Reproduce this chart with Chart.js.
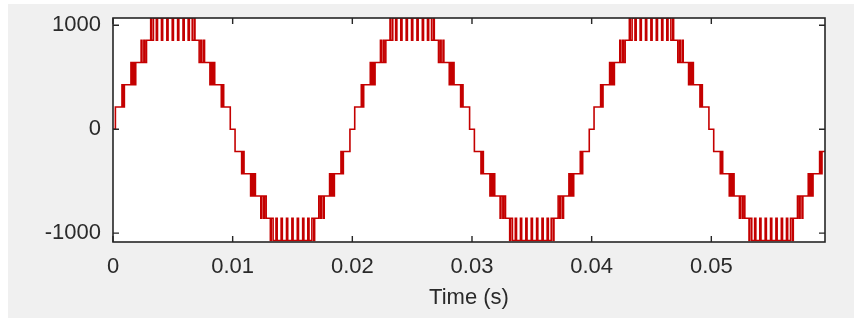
<!DOCTYPE html>
<html>
<head>
<meta charset="utf-8">
<script src="https://cdn.jsdelivr.net/npm/chart.js@4"></script>
<style>
html, body { margin: 0; padding: 0; background: #fff; }
#frame { position: absolute; left: 8px; top: 4px; width: 846px; height: 314px; background: #f0f0f0; }
#wrap { position: absolute; left: 0; top: 0; width: 854px; height: 322px; }
</style>
</head>
<body>
<div id="frame"></div>
<div id="wrap"><canvas id="waveChart" width="854" height="322"></canvas></div>
<script>
// switching edges: [time in ms, output voltage after the edge]
var halfCycle1 = [[0,0],[0.20,214],[0.75,428],[0.82,214],[0.95,428],[1.50,642],[1.57,428],[1.70,642],[1.78,428],[1.90,642],
    [2.35,856],[2.42,642],[2.58,856],[2.66,642],[2.80,856],[3.15,1070],[3.22,856],[3.38,1070],[3.62,856],[3.72,1070],
    [4.05,856],[4.15,1070],[4.50,856],[4.60,1070],[4.95,856],[5.05,1070],[5.40,856],[5.50,1070],[5.85,856],[5.95,1070],
    [6.28,856],[6.38,1070],[6.62,856],[6.78,1070],[6.85,856],[7.20,642],[7.34,856],[7.42,642],[7.58,856],[7.65,642],
    [8.10,428],[8.22,642],[8.30,428],[8.43,642],[8.50,428],[9.05,214],[9.18,428],[9.25,214],[9.80,0]];
var halfCycle2 = [[10.20,-214],[10.75,-428],[10.82,-214],[10.95,-428],[11.50,-642],[11.57,-428],[11.70,-642],[11.78,-428],[11.90,-642],
    [12.35,-856],[12.42,-642],[12.58,-856],[12.66,-642],[12.80,-856],[13.15,-1070],[13.22,-856],[13.38,-1070],[13.62,-856],[13.72,-1070],
    [14.05,-856],[14.15,-1070],[14.50,-856],[14.60,-1070],[14.95,-856],[15.05,-1070],[15.40,-856],[15.50,-1070],[15.85,-856],[15.95,-1070],
    [16.28,-856],[16.38,-1070],[16.62,-856],[16.78,-1070],[16.85,-856],[17.20,-642],[17.34,-856],[17.42,-642],[17.58,-856],[17.65,-642],
    [18.10,-428],[18.22,-642],[18.30,-428],[18.43,-642],[18.50,-428],[19.05,-214],[19.18,-428],[19.25,-214],[19.80,0]];
var halfCycle3 = [[20.20,214],[20.75,428],[20.82,214],[20.95,428],[21.50,642],[21.57,428],[21.70,642],[21.78,428],[21.90,642],
    [22.35,856],[22.42,642],[22.58,856],[22.66,642],[22.80,856],[23.15,1070],[23.22,856],[23.38,1070],[23.62,856],[23.72,1070],
    [24.05,856],[24.15,1070],[24.50,856],[24.60,1070],[24.95,856],[25.05,1070],[25.40,856],[25.50,1070],[25.85,856],[25.95,1070],
    [26.28,856],[26.38,1070],[26.62,856],[26.78,1070],[26.85,856],[27.20,642],[27.34,856],[27.42,642],[27.58,856],[27.65,642],
    [28.10,428],[28.22,642],[28.30,428],[28.43,642],[28.50,428],[29.05,214],[29.18,428],[29.25,214],[29.80,0]];
var halfCycle4 = [[30.20,-214],[30.75,-428],[30.82,-214],[30.95,-428],[31.50,-642],[31.57,-428],[31.70,-642],[31.78,-428],[31.90,-642],
    [32.35,-856],[32.42,-642],[32.58,-856],[32.66,-642],[32.80,-856],[33.15,-1070],[33.22,-856],[33.38,-1070],[33.62,-856],[33.72,-1070],
    [34.05,-856],[34.15,-1070],[34.50,-856],[34.60,-1070],[34.95,-856],[35.05,-1070],[35.40,-856],[35.50,-1070],[35.85,-856],[35.95,-1070],
    [36.28,-856],[36.38,-1070],[36.62,-856],[36.78,-1070],[36.85,-856],[37.20,-642],[37.34,-856],[37.42,-642],[37.58,-856],[37.65,-642],
    [38.10,-428],[38.22,-642],[38.30,-428],[38.43,-642],[38.50,-428],[39.05,-214],[39.18,-428],[39.25,-214],[39.80,0]];
var halfCycle5 = [[40.20,214],[40.75,428],[40.82,214],[40.95,428],[41.50,642],[41.57,428],[41.70,642],[41.78,428],[41.90,642],
    [42.35,856],[42.42,642],[42.58,856],[42.66,642],[42.80,856],[43.15,1070],[43.22,856],[43.38,1070],[43.62,856],[43.72,1070],
    [44.05,856],[44.15,1070],[44.50,856],[44.60,1070],[44.95,856],[45.05,1070],[45.40,856],[45.50,1070],[45.85,856],[45.95,1070],
    [46.28,856],[46.38,1070],[46.62,856],[46.78,1070],[46.85,856],[47.20,642],[47.34,856],[47.42,642],[47.58,856],[47.65,642],
    [48.10,428],[48.22,642],[48.30,428],[48.43,642],[48.50,428],[49.05,214],[49.18,428],[49.25,214],[49.80,0]];
var halfCycle6 = [[50.20,-214],[50.75,-428],[50.82,-214],[50.95,-428],[51.50,-642],[51.57,-428],[51.70,-642],[51.78,-428],[51.90,-642],
    [52.35,-856],[52.42,-642],[52.58,-856],[52.66,-642],[52.80,-856],[53.15,-1070],[53.22,-856],[53.38,-1070],[53.62,-856],[53.72,-1070],
    [54.05,-856],[54.15,-1070],[54.50,-856],[54.60,-1070],[54.95,-856],[55.05,-1070],[55.40,-856],[55.50,-1070],[55.85,-856],[55.95,-1070],
    [56.28,-856],[56.38,-1070],[56.62,-856],[56.78,-1070],[56.85,-856],[57.20,-642],[57.34,-856],[57.42,-642],[57.58,-856],[57.65,-642],
    [58.10,-428],[58.22,-642],[58.30,-428],[58.43,-642],[58.50,-428],[59.05,-214],[59.18,-428],[59.25,-214],[59.50,-214]];

var xTicks = [0, 0.01, 0.02, 0.03, 0.04, 0.05];
var xTickLabels = ['0', '0.01', '0.02', '0.03', '0.04', '0.05'];
var yTicks = [-1000, 0, 1000];
var yTickLabels = ['-1000', '0', '1000'];

var edges = halfCycle1.concat(halfCycle2, halfCycle3, halfCycle4, halfCycle5, halfCycle6);
var points = edges.map(function(e) { return { x: e[0] / 1000, y: e[1] }; });

var axisFont = { family: "'Liberation Sans', Arial, sans-serif", size: 22 };
var textColor = '#2a2a2a';

// white plot box, full frame and inward tick marks like the original plot
var boxPlugin = {
    id: 'boxPlugin',
    beforeDraw: function(chart) {
        var a = chart.chartArea, ctx = chart.ctx;
        ctx.save();
        ctx.fillStyle = '#fff';
        ctx.fillRect(a.left, a.top, a.right - a.left, a.bottom - a.top);
        ctx.restore();
    },
    afterDraw: function(chart) {
        var a = chart.chartArea, ctx = chart.ctx;
        var xs = chart.scales.x, ys = chart.scales.y;
        ctx.save();
        ctx.strokeStyle = '#262626';
        ctx.lineWidth = 1.6;
        ctx.strokeRect(a.left, a.top, a.right - a.left, a.bottom - a.top);
        ctx.lineWidth = 1.4;
        ctx.beginPath();
        xTicks.forEach(function(v) {
            var px = xs.getPixelForValue(v);
            ctx.moveTo(px, a.bottom); ctx.lineTo(px, a.bottom - 6);
            ctx.moveTo(px, a.top); ctx.lineTo(px, a.top + 6);
        });
        yTicks.forEach(function(v) {
            var py = ys.getPixelForValue(v);
            ctx.moveTo(a.left, py); ctx.lineTo(a.left + 6, py);
            ctx.moveTo(a.right, py); ctx.lineTo(a.right - 6, py);
        });
        ctx.stroke();
        ctx.restore();
    }
};

var ctx = document.getElementById('waveChart').getContext('2d');
var waveChart = new Chart(ctx, {
    type: 'line',
    data: {
        datasets: [{
            label: 'Output voltage',
            data: points,
            stepped: true,
            borderColor: '#c40000',
            borderWidth: 1.6,
            pointRadius: 0,
            fill: false
        }]
    },
    options: {
        responsive: false,
        animation: false,
        devicePixelRatio: 1,
        layout: { padding: { left: 0, right: 29, top: 18, bottom: 0 } },
        plugins: { legend: { display: false }, tooltip: { enabled: false } },
        scales: {
            x: {
                type: 'linear',
                min: 0,
                max: 0.0595,
                afterBuildTicks: function(s) { s.ticks = xTicks.map(function(v) { return { value: v }; }); },
                afterFit: function(s) { s.height = 80; s.paddingLeft = 0; s.paddingRight = 0; },
                grid: { display: false, drawTicks: false },
                border: { display: false },
                ticks: {
                    padding: 12,
                    color: textColor,
                    font: axisFont,
                    maxRotation: 0,
                    callback: function(v, i) { return xTickLabels[i]; }
                },
                title: { display: true, text: 'Time (s)', color: textColor, font: axisFont, padding: { top: 0, bottom: 11 } }
            },
            y: {
                min: -1085,
                max: 1070,
                afterBuildTicks: function(s) { s.ticks = yTicks.map(function(v) { return { value: v }; }); },
                afterFit: function(s) { s.width = 113; s.paddingTop = 0; s.paddingBottom = 0; },
                grid: { display: false, drawTicks: false },
                border: { display: false },
                ticks: {
                    padding: 12,
                    color: textColor,
                    font: axisFont,
                    callback: function(v, i) { return yTickLabels[i]; }
                }
            }
        }
    },
    plugins: [boxPlugin]
});
</script>
</body>
</html>
